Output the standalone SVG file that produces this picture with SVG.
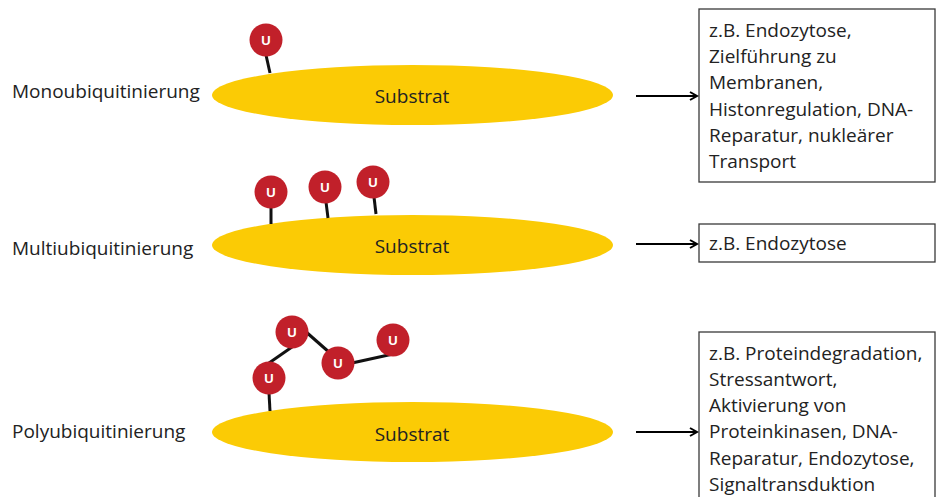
<svg xmlns="http://www.w3.org/2000/svg" width="937" height="497" viewBox="0 0 937 497">
<style>
.sub{fill:#FBCB05}
.ub circle{fill:#C1202A}
.ub text{fill:#fff;font-family:"Liberation Sans",Arial,sans-serif;font-weight:bold;font-size:13px;text-anchor:middle}
.stick{stroke:#111;stroke-width:3;fill:none}
.lbl{font-family:"Open Sans","Liberation Sans",sans-serif;font-size:19px;fill:#222}
.st{font-family:"Open Sans","Liberation Sans",sans-serif;font-size:19px;fill:#222;text-anchor:middle}
.box{fill:#fff;stroke:#3a3a3a;stroke-width:1.3}
.bt{font-family:"Open Sans","Liberation Sans",sans-serif;font-size:19px;fill:#222}
.arr{stroke:#000;stroke-width:2.2;fill:none}
</style>
<defs>
<marker id="ah" markerWidth="10" markerHeight="10" refX="8" refY="5" orient="auto" markerUnits="userSpaceOnUse">
<path d="M1,1 L8,5 L1,9" fill="none" stroke="#000" stroke-width="2"/>
</marker>
</defs>
<rect width="937" height="497" fill="#fff"/>

<g id="row1">
<text class="lbl" x="12" y="98">Monoubiquitinierung</text>
<ellipse class="sub" cx="412.5" cy="95" rx="200.5" ry="30"/>
<text class="st" x="412" y="103">Substrat</text>
<line class="stick" x1="266" y1="55" x2="270" y2="73"/>
<g class="ub"><circle cx="266" cy="40" r="16.5"/><text x="266" y="45">U</text></g>
</g>

<g id="row2">
<text class="lbl" x="12" y="255">Multiubiquitinierung</text>
<ellipse class="sub" cx="412.5" cy="245" rx="200.5" ry="30"/>
<text class="st" x="412" y="253">Substrat</text>
<line class="stick" x1="271" y1="207" x2="271" y2="224"/>
<line class="stick" x1="326" y1="202" x2="328" y2="218"/>
<line class="stick" x1="374" y1="197" x2="376" y2="214"/>
<g class="ub"><circle cx="271" cy="192" r="16.5"/><text x="271" y="197">U</text></g>
<g class="ub"><circle cx="325" cy="187" r="16.5"/><text x="325" y="192">U</text></g>
<g class="ub"><circle cx="373" cy="182" r="16.5"/><text x="373" y="187">U</text></g>
</g>

<g id="row3">
<text class="lbl" x="12" y="438">Polyubiquitinierung</text>
<ellipse class="sub" cx="412.5" cy="432" rx="200.5" ry="30"/>
<text class="st" x="412" y="441">Substrat</text>
<line class="stick" x1="269" y1="393" x2="270" y2="411"/>
<line class="stick" x1="269" y1="363" x2="292" y2="347"/>
<line class="stick" x1="305" y1="331" x2="330" y2="353"/>
<line class="stick" x1="352" y1="363" x2="393" y2="354"/>
<g class="ub"><circle cx="269" cy="378" r="16.5"/><text x="269" y="383">U</text></g>
<g class="ub"><circle cx="292" cy="332" r="16.5"/><text x="292" y="337">U</text></g>
<g class="ub"><circle cx="338" cy="363" r="16.5"/><text x="338" y="368">U</text></g>
<g class="ub"><circle cx="393" cy="340" r="16.5"/><text x="393" y="345">U</text></g>
</g>

<g id="box1">
<rect class="box" x="699" y="9" width="236" height="173"/>
<text class="bt" x="709"><tspan x="709" y="37">z.B. Endozytose,</tspan><tspan x="709" y="63">Zielführung zu</tspan><tspan x="709" y="89">Membranen,</tspan><tspan x="709" y="116">Histonregulation, DNA-</tspan><tspan x="709" y="142">Reparatur, nukleärer</tspan><tspan x="709" y="168">Transport</tspan></text>
</g>
<g id="box2">
<rect class="box" x="699" y="224" width="236" height="38"/>
<text class="bt" x="709" y="250">z.B. Endozytose</text>
</g>
<g id="box3">
<rect class="box" x="699" y="332" width="236" height="170"/>
<text class="bt" x="709"><tspan x="709" y="360">z.B. Proteindegradation,</tspan><tspan x="709" y="386">Stressantwort,</tspan><tspan x="709" y="412">Aktivierung von</tspan><tspan x="709" y="438">Proteinkinasen, DNA-</tspan><tspan x="709" y="465">Reparatur, Endozytose,</tspan><tspan x="709" y="491">Signaltransduktion</tspan></text>
</g>

<g id="connectors">
<line class="arr" x1="636" y1="96" x2="697" y2="96" marker-end="url(#ah)"/>
<line class="arr" x1="636" y1="244" x2="697" y2="244" marker-end="url(#ah)"/>
<line class="arr" x1="636" y1="432" x2="697" y2="432" marker-end="url(#ah)"/>
</g>
</svg>
